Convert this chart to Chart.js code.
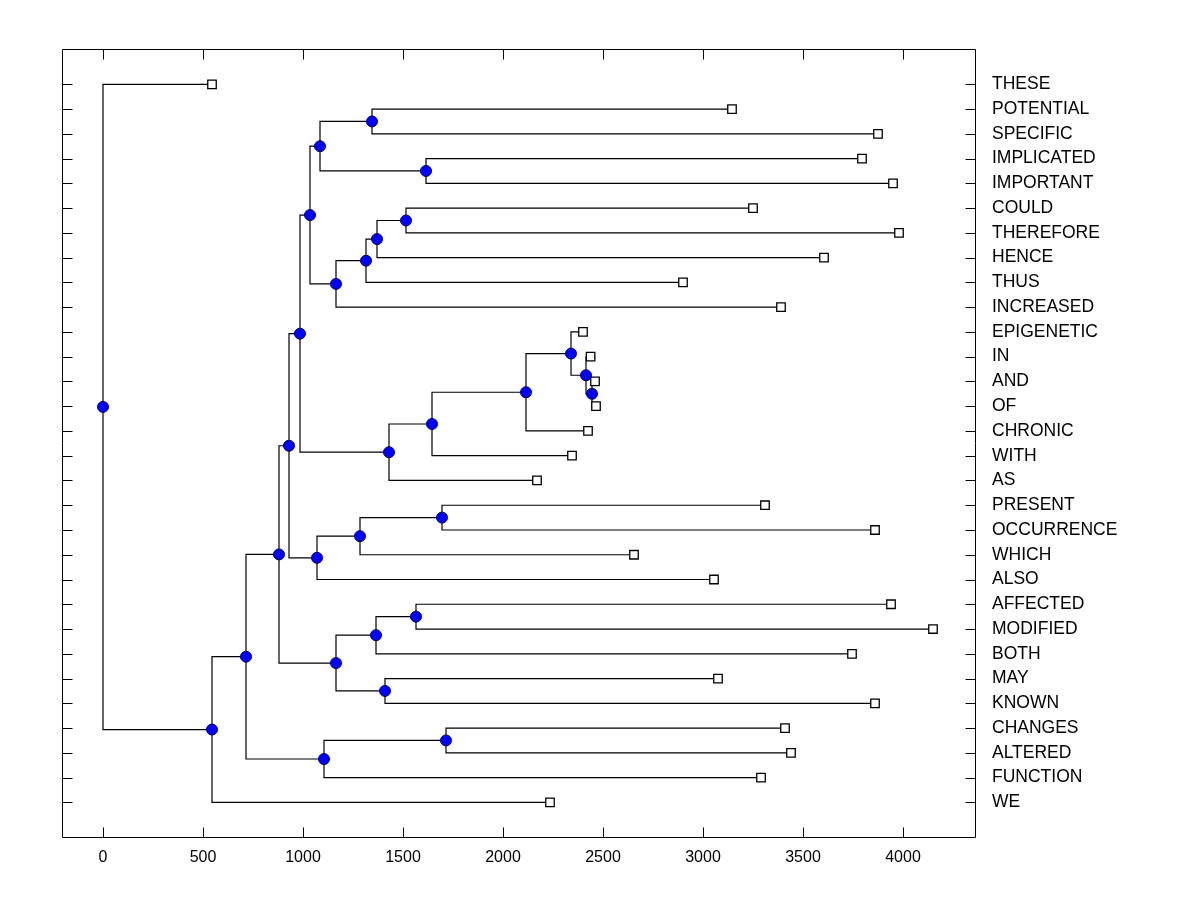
<!DOCTYPE html>
<html>
<head>
<meta charset="utf-8">
<title>Dendrogram</title>
<script src="https://cdn.jsdelivr.net/npm/chart.js@4.4.1/dist/chart.umd.min.js"></script>
<style>
  html, body { margin: 0; background: #fff; }
  canvas { display: block; }
</style>
</head>
<body>
<canvas id="dendro" width="1200" height="900"></canvas>
<script>
// leaves, top to bottom
const leafLabels = ['THESE', 'POTENTIAL', 'SPECIFIC', 'IMPLICATED', 'IMPORTANT', 'COULD',
    'THEREFORE', 'HENCE', 'THUS', 'INCREASED', 'EPIGENETIC', 'IN', 'AND', 'OF', 'CHRONIC',
    'WITH', 'AS', 'PRESENT', 'OCCURRENCE', 'WHICH', 'ALSO', 'AFFECTED', 'MODIFIED', 'BOTH',
    'MAY', 'KNOWN', 'CHANGES', 'ALTERED', 'FUNCTION', 'WE'];
const leafHeights = [545, 3145, 3875, 3795, 3950, 3250, 3980, 3605, 2900, 3390, 2400, 2438,
    2460, 2465, 2425, 2345, 2170, 3310, 3860, 2655, 3055, 3940, 4150, 3745, 3075, 3860,
    3410, 3440, 3290, 2235];

// merges: a child is a leaf index (0-29) or 30 + index of an earlier merge
const mergeLeft  = [12, 11, 10, 32, 33, 34, 1, 3, 36, 5, 39, 40, 41, 38, 43,
    17, 45, 46, 44, 21, 49, 24, 50, 48, 26, 54, 53, 56, 0];
const mergeRight = [13, 30, 31, 14, 15, 16, 2, 4, 37, 6, 7, 8, 9, 42, 35,
    18, 19, 20, 47, 22, 23, 25, 51, 52, 27, 28, 55, 29, 57];
const mergeHeights = [2445, 2415, 2340, 2115, 1645, 1430, 1345, 1615, 1085, 1515, 1370, 1315, 1165, 1035, 985,
    1695, 1285, 1070, 930, 1565, 1365, 1410, 1165, 880, 1715, 1105, 715, 545, 0];

const xTicks = [0, 500, 1000, 1500, 2000, 2500, 3000, 3500, 4000];

// node positions: x = height, y = row (leaves) or midpoint of children
const nodeX = leafHeights.slice();
const nodeY = leafLabels.map((_, i) => i);
mergeHeights.forEach((h, k) => {
    nodeX.push(h);
    nodeY.push((nodeY[mergeLeft[k]] + nodeY[mergeRight[k]]) / 2);
});

const datasets = [];
mergeHeights.forEach((h, k) => {
    const a = mergeLeft[k], b = mergeRight[k];
    datasets.push({
        data: [
            { x: nodeX[a], y: nodeY[a] },
            { x: h, y: nodeY[a] },
            { x: h, y: nodeY[b] },
            { x: nodeX[b], y: nodeY[b] }
        ],
        showLine: true,
        borderColor: '#000',
        borderWidth: 1.2,
        pointRadius: 0,
        order: 3
    });
});

datasets.push({
    data: mergeHeights.map((h, k) => ({ x: h, y: nodeY[30 + k] })),
    pointStyle: 'circle',
    pointRadius: 5.5,
    backgroundColor: '#0000ff',
    borderColor: '#000070',
    borderWidth: 1,
    order: 2
});

datasets.push({
    data: leafHeights.map((h, i) => ({ x: h, y: i })),
    pointStyle: 'rect',
    pointRadius: 6,
    backgroundColor: '#fff',
    borderColor: '#000',
    borderWidth: 1.3,
    order: 1
});

// box around the plot with inward tick marks on all four sides
const frameTicks = {
    id: 'frameTicks',
    afterDatasetsDraw(chart) {
        const { ctx, chartArea: a, scales: { x, y } } = chart;
        const L = Math.round(a.left) + 0.5, R = Math.round(a.right) - 0.5;
        const T = Math.round(a.top) + 0.5, B = Math.round(a.bottom) - 0.5;
        const len = 10;
        ctx.save();
        ctx.strokeStyle = '#000';
        ctx.lineWidth = 1;
        ctx.beginPath();
        ctx.rect(L, T, R - L, B - T);
        xTicks.forEach(v => {
            const px = Math.round(x.getPixelForValue(v)) + 0.5;
            ctx.moveTo(px, T); ctx.lineTo(px, T + len);
            ctx.moveTo(px, B); ctx.lineTo(px, B - len);
        });
        leafLabels.forEach((_, i) => {
            const py = Math.round(y.getPixelForValue(i)) + 0.5;
            ctx.moveTo(L, py); ctx.lineTo(L + len, py);
            ctx.moveTo(R, py); ctx.lineTo(R - len, py);
        });
        ctx.stroke();
        ctx.restore();
    }
};

const font = '"Liberation Sans", Arial, sans-serif';

new Chart(document.getElementById('dendro'), {
    type: 'scatter',
    data: { datasets: datasets },
    plugins: [frameTicks],
    options: {
        responsive: false,
        animation: false,
        devicePixelRatio: 1,
        layout: { padding: { left: 62, top: 49, right: 0, bottom: 0 } },
        plugins: {
            legend: { display: false },
            tooltip: { enabled: false }
        },
        scales: {
            x: {
                type: 'linear',
                position: 'bottom',
                min: -205,
                max: 4365,
                afterBuildTicks: axis => { axis.ticks = xTicks.map(v => ({ value: v })); },
                afterFit: axis => { axis.height = 62; },
                grid: { display: false, drawTicks: false },
                border: { display: false },
                ticks: {
                    color: '#000',
                    padding: 10,
                    maxRotation: 0,
                    font: { family: font, size: 16 },
                    callback: v => String(v)
                }
            },
            y: {
                type: 'linear',
                position: 'right',
                reverse: true,
                min: -1.426,
                max: 30.44,
                afterBuildTicks: axis => { axis.ticks = leafLabels.map((_, i) => ({ value: i })); },
                afterFit: axis => { axis.width = 224; },
                grid: { display: false, drawTicks: false },
                border: { display: false },
                ticks: {
                    color: '#000',
                    padding: 16,
                    autoSkip: false,
                    font: { family: font, size: 17.5 },
                    callback: v => leafLabels[v]
                }
            }
        }
    }
});
</script>
</body>
</html>
